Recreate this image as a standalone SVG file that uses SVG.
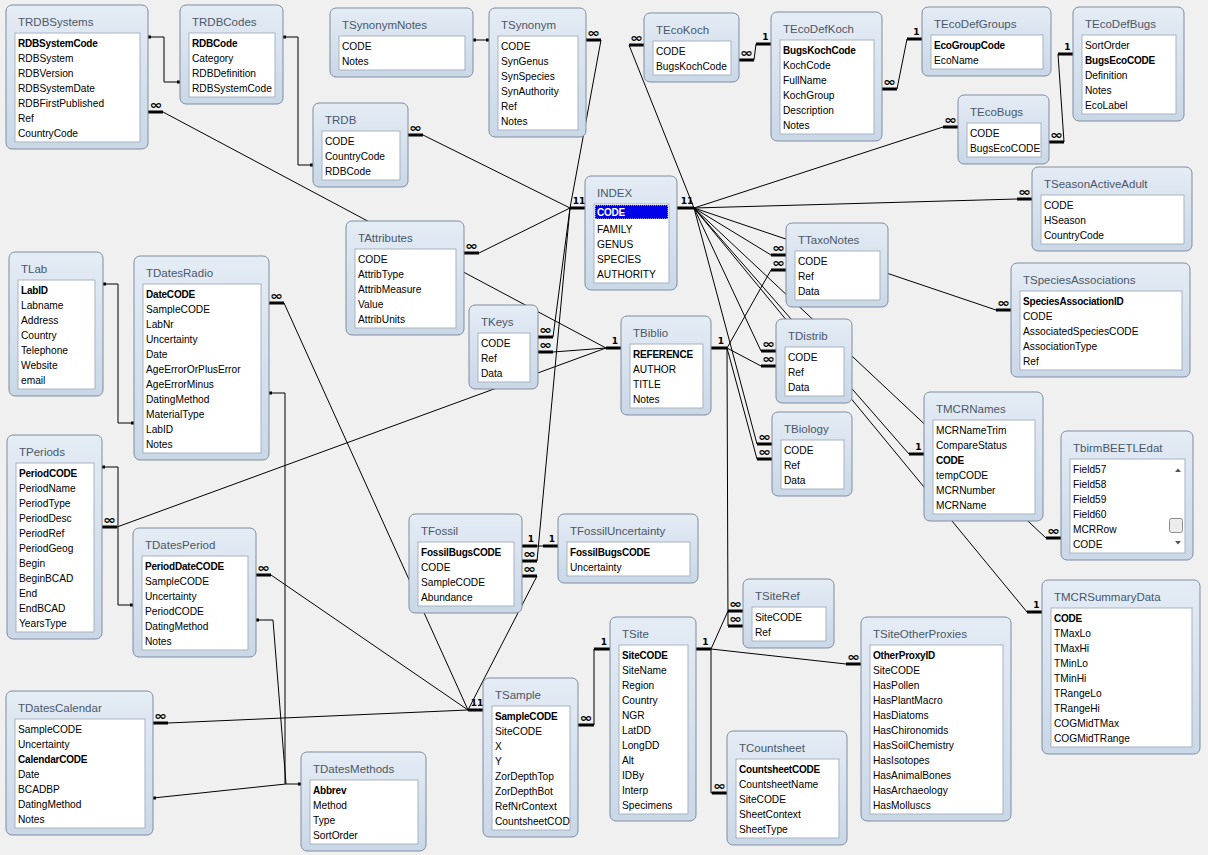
<svg xmlns="http://www.w3.org/2000/svg" width="1208" height="855" viewBox="0 0 1208 855">
<defs>
<linearGradient id="g" x1="0" y1="0" x2="0" y2="1">
<stop offset="0" stop-color="#e4ecf5"/>
<stop offset="1" stop-color="#c9d7e7"/>
</linearGradient>
<clipPath id="cs"><rect x="9" y="28" width="78" height="124"/></clipPath>
</defs>
<style>
.bx{fill:url(#g);stroke:#7f8d9e;stroke-width:1}
.in{fill:#fff;stroke:#a7b3c0;stroke-width:1}
.tt{font-family:"Liberation Sans",Arial,sans-serif;font-size:11.5px;fill:#4b5768}
.f{font-family:"Liberation Sans",Arial,sans-serif;font-size:10.2px;fill:#000}
.k{font-weight:bold;font-size:10px;letter-spacing:-0.2px}
.ln{fill:none;stroke:#000;stroke-width:1}
.st{fill:none;stroke:#000;stroke-width:3}
.dot{fill:#000}
.inf{font-family:"DejaVu Sans",sans-serif;font-size:12px;font-weight:bold;text-anchor:middle;fill:#000}
.one{font-family:"DejaVu Sans",sans-serif;font-size:9px;font-weight:bold;text-anchor:middle;fill:#000}
</style>
<rect width="1208" height="855" fill="#f0f0f0"/>
<g id="connectors">
<path class="ln" d="M163 112L606 348M423 135L570 208M601 40L570 208M479 253L570 208M553 337L570 208M553 352L606 348M537 561L570 208M117 527L606 348M537 546L543 546M537 576L468 710M284 303L468 710M271 575L468 710M168 723L468 710M594 725L594 649M711 649L728 611M711 649L846 664M711 649L711 793L712 793M727 348L728 626M727 348L771 270M727 348L761 366M727 348L757 459M694 208L629 45M694 208L943 127M694 208L1017 199M694 208L996 310M694 208L771 255M694 208L761 351M694 208L757 444M694 208L909 454M694 208L1046 538M694 208L1027 612M754 60L756 44M897 89L907 39M1064 142L1058 54"/>
<path class="ln" d="M148 37H164V82H180M283 37H298V165H313M473 40H489M103 284H118V423H134M102 467H118V605H133M256 620H273L286 784H301M269 393H285V784M153 798L286 784"/>
<path class="st" d="M148 112H163M408 135H423M586 40H601M570 208H585M677 208H694M464 253H479M538 337H553M538 352H553M606 348H621M711 348H727M102 527H117M522 546H537M543 546H558M522 561H537M522 576H537M468 710H483M269 303H284M256 575H271M153 723H168M578 725H594M594 649H610M696 649H711M728 611H743M728 626H743M846 664H861M712 793H727M771 255H786M771 270H786M761 351H776M761 366H776M757 444H772M757 459H772M629 45H644M739 60H754M756 44H771M882 89H897M907 39H922M943 127H958M1049 142H1064M1058 54H1073M1017 199H1032M996 310H1011M909 454H924M1046 538H1061M1027 612H1042"/>
<g class="dot">
<rect x="148" y="35.5" width="3" height="3"/><rect x="177" y="80.5" width="3" height="3"/>
<rect x="283" y="35.5" width="3" height="3"/><rect x="310" y="163.5" width="3" height="3"/>
<rect x="473" y="38.5" width="3" height="3"/><rect x="486" y="38.5" width="3" height="3"/>
<rect x="103" y="282.5" width="3" height="3"/><rect x="131" y="421.5" width="3" height="3"/>
<rect x="102" y="465.5" width="3" height="3"/><rect x="130" y="603.5" width="3" height="3"/>
<rect x="256" y="618.5" width="3" height="3"/><rect x="298" y="782.5" width="3" height="3"/>
<rect x="269" y="391.5" width="3" height="3"/><rect x="153" y="796.5" width="3" height="3"/>
</g>
<g>
<text class="inf" x="156" y="108.5" textLength="13" lengthAdjust="spacingAndGlyphs">∞</text>
<text class="inf" x="415.5" y="131.5" textLength="13" lengthAdjust="spacingAndGlyphs">∞</text>
<text class="inf" x="593.5" y="36.5" textLength="13" lengthAdjust="spacingAndGlyphs">∞</text>
<text class="inf" x="471.5" y="249.5" textLength="13" lengthAdjust="spacingAndGlyphs">∞</text>
<text class="inf" x="545.5" y="333.5" textLength="13" lengthAdjust="spacingAndGlyphs">∞</text>
<text class="inf" x="545.5" y="348.5" textLength="13" lengthAdjust="spacingAndGlyphs">∞</text>
<text class="inf" x="109.5" y="523.5" textLength="13" lengthAdjust="spacingAndGlyphs">∞</text>
<text class="inf" x="529.5" y="557.5" textLength="13" lengthAdjust="spacingAndGlyphs">∞</text>
<text class="inf" x="529.5" y="572.5" textLength="13" lengthAdjust="spacingAndGlyphs">∞</text>
<text class="inf" x="276.5" y="299.5" textLength="13" lengthAdjust="spacingAndGlyphs">∞</text>
<text class="inf" x="263.5" y="571.5" textLength="13" lengthAdjust="spacingAndGlyphs">∞</text>
<text class="inf" x="160.5" y="719.5" textLength="13" lengthAdjust="spacingAndGlyphs">∞</text>
<text class="inf" x="586" y="721.5" textLength="13" lengthAdjust="spacingAndGlyphs">∞</text>
<text class="inf" x="735.5" y="607.5" textLength="13" lengthAdjust="spacingAndGlyphs">∞</text>
<text class="inf" x="735.5" y="622.5" textLength="13" lengthAdjust="spacingAndGlyphs">∞</text>
<text class="inf" x="853.5" y="660.5" textLength="13" lengthAdjust="spacingAndGlyphs">∞</text>
<text class="inf" x="719.5" y="789.5" textLength="13" lengthAdjust="spacingAndGlyphs">∞</text>
<text class="inf" x="778.5" y="251.5" textLength="13" lengthAdjust="spacingAndGlyphs">∞</text>
<text class="inf" x="778.5" y="266.5" textLength="13" lengthAdjust="spacingAndGlyphs">∞</text>
<text class="inf" x="768.5" y="347.5" textLength="13" lengthAdjust="spacingAndGlyphs">∞</text>
<text class="inf" x="768.5" y="362.5" textLength="13" lengthAdjust="spacingAndGlyphs">∞</text>
<text class="inf" x="764.5" y="440.5" textLength="13" lengthAdjust="spacingAndGlyphs">∞</text>
<text class="inf" x="764.5" y="455.5" textLength="13" lengthAdjust="spacingAndGlyphs">∞</text>
<text class="inf" x="636.5" y="41.5" textLength="13" lengthAdjust="spacingAndGlyphs">∞</text>
<text class="inf" x="746.5" y="56.5" textLength="13" lengthAdjust="spacingAndGlyphs">∞</text>
<text class="inf" x="889.5" y="85.5" textLength="13" lengthAdjust="spacingAndGlyphs">∞</text>
<text class="inf" x="950.5" y="123.5" textLength="13" lengthAdjust="spacingAndGlyphs">∞</text>
<text class="inf" x="1056.5" y="138.5" textLength="13" lengthAdjust="spacingAndGlyphs">∞</text>
<text class="inf" x="1024.5" y="195.5" textLength="13" lengthAdjust="spacingAndGlyphs">∞</text>
<text class="inf" x="1003.5" y="306.5" textLength="13" lengthAdjust="spacingAndGlyphs">∞</text>
<text class="inf" x="1053.5" y="534.5" textLength="13" lengthAdjust="spacingAndGlyphs">∞</text>
<text class="one" x="579" y="204">11</text>
<text class="one" x="687" y="204">11</text>
<text class="one" x="477" y="706">11</text>
<text class="one" x="615" y="344">1</text>
<text class="one" x="721" y="344">1</text>
<text class="one" x="531" y="542">1</text>
<text class="one" x="552" y="542">1</text>
<text class="one" x="604" y="645">1</text>
<text class="one" x="705.5" y="645">1</text>
<text class="one" x="765.5" y="40">1</text>
<text class="one" x="916.5" y="35">1</text>
<text class="one" x="1067.5" y="50">1</text>
<text class="one" x="918.5" y="450">1</text>
<text class="one" x="1036.5" y="608">1</text>
</g>
</g>

<g id="TRDBSystems" transform="translate(6,5)"><rect class="bx" width="142" height="144" rx="6"/><text class="tt" x="12" y="21">TRDBSystems</text><rect class="in" x="9" y="28" width="125" height="109"/><text class="f"><tspan class="k" x="12" y="42">RDBSystemCode</tspan><tspan x="12" y="57">RDBSystem</tspan><tspan x="12" y="72">RDBVersion</tspan><tspan x="12" y="87">RDBSystemDate</tspan><tspan x="12" y="102">RDBFirstPublished</tspan><tspan x="12" y="117">Ref</tspan><tspan x="12" y="132">CountryCode</tspan></text></g>

<g id="TRDBCodes" transform="translate(180,5)"><rect class="bx" width="103" height="99" rx="6"/><text class="tt" x="12" y="21">TRDBCodes</text><rect class="in" x="9" y="28" width="86" height="64"/><text class="f"><tspan class="k" x="12" y="42">RDBCode</tspan><tspan x="12" y="57">Category</tspan><tspan x="12" y="72">RDBDefinition</tspan><tspan x="12" y="87">RDBSystemCode</tspan></text></g>

<g id="TSynonymNotes" transform="translate(330,8)"><rect class="bx" width="143" height="69" rx="6"/><text class="tt" x="12" y="21">TSynonymNotes</text><rect class="in" x="9" y="28" width="126" height="34"/><text class="f"><tspan x="12" y="42">CODE</tspan><tspan x="12" y="57">Notes</tspan></text></g>

<g id="TSynonym" transform="translate(489,8)"><rect class="bx" width="97" height="129" rx="6"/><text class="tt" x="12" y="21">TSynonym</text><rect class="in" x="9" y="28" width="80" height="94"/><text class="f"><tspan x="12" y="42">CODE</tspan><tspan x="12" y="57">SynGenus</tspan><tspan x="12" y="72">SynSpecies</tspan><tspan x="12" y="87">SynAuthority</tspan><tspan x="12" y="102">Ref</tspan><tspan x="12" y="117">Notes</tspan></text></g>

<g id="TRDB" transform="translate(313,103)"><rect class="bx" width="95" height="84" rx="6"/><text class="tt" x="12" y="21">TRDB</text><rect class="in" x="9" y="28" width="78" height="49"/><text class="f"><tspan x="12" y="42">CODE</tspan><tspan x="12" y="57">CountryCode</tspan><tspan x="12" y="72">RDBCode</tspan></text></g>

<g id="TEcoKoch" transform="translate(644,13)"><rect class="bx" width="95" height="69" rx="6"/><text class="tt" x="12" y="21">TEcoKoch</text><rect class="in" x="9" y="28" width="78" height="34"/><text class="f"><tspan x="12" y="42">CODE</tspan><tspan x="12" y="57">BugsKochCode</tspan></text></g>

<g id="TEcoDefKoch" transform="translate(771,12)"><rect class="bx" width="111" height="129" rx="6"/><text class="tt" x="12" y="21">TEcoDefKoch</text><rect class="in" x="9" y="28" width="94" height="94"/><text class="f"><tspan class="k" x="12" y="42">BugsKochCode</tspan><tspan x="12" y="57">KochCode</tspan><tspan x="12" y="72">FullName</tspan><tspan x="12" y="87">KochGroup</tspan><tspan x="12" y="102">Description</tspan><tspan x="12" y="117">Notes</tspan></text></g>

<g id="TEcoDefGroups" transform="translate(922,7)"><rect class="bx" width="129" height="69" rx="6"/><text class="tt" x="12" y="21">TEcoDefGroups</text><rect class="in" x="9" y="28" width="112" height="34"/><text class="f"><tspan class="k" x="12" y="42">EcoGroupCode</tspan><tspan x="12" y="57">EcoName</tspan></text></g>

<g id="TEcoDefBugs" transform="translate(1073,7)"><rect class="bx" width="111" height="114" rx="6"/><text class="tt" x="12" y="21">TEcoDefBugs</text><rect class="in" x="9" y="28" width="94" height="79"/><text class="f"><tspan x="12" y="42">SortOrder</tspan><tspan class="k" x="12" y="57">BugsEcoCODE</tspan><tspan x="12" y="72">Definition</tspan><tspan x="12" y="87">Notes</tspan><tspan x="12" y="102">EcoLabel</tspan></text></g>

<g id="TEcoBugs" transform="translate(958,95)"><rect class="bx" width="91" height="69" rx="6"/><text class="tt" x="12" y="21">TEcoBugs</text><rect class="in" x="9" y="28" width="74" height="34"/><text class="f"><tspan x="12" y="42">CODE</tspan><tspan x="12" y="57">BugsEcoCODE</tspan></text></g>

<g id="TSeasonActiveAdult" transform="translate(1032,167)"><rect class="bx" width="160" height="84" rx="6"/><text class="tt" x="12" y="21">TSeasonActiveAdult</text><rect class="in" x="9" y="28" width="143" height="49"/><text class="f"><tspan x="12" y="42">CODE</tspan><tspan x="12" y="57">HSeason</tspan><tspan x="12" y="72">CountryCode</tspan></text></g>

<g id="TSpeciesAssociations" transform="translate(1011,263)"><rect class="bx" width="179" height="114" rx="6"/><text class="tt" x="12" y="21">TSpeciesAssociations</text><rect class="in" x="9" y="28" width="162" height="79"/><text class="f"><tspan class="k" x="12" y="42">SpeciesAssociationID</tspan><tspan x="12" y="57">CODE</tspan><tspan x="12" y="72">AssociatedSpeciesCODE</tspan><tspan x="12" y="87">AssociationType</tspan><tspan x="12" y="102">Ref</tspan></text></g>

<g id="INDEX" transform="translate(585,176)"><rect class="bx" width="92" height="114" rx="6"/><text class="tt" x="12" y="21">INDEX</text><rect class="in" x="9" y="28" width="75" height="79"/><rect x="10" y="29" width="73" height="14" fill="#0000e8" stroke="#fff" stroke-dasharray="1 1"/><text class="f"><tspan class="k" x="12" y="40" fill="#fff">CODE</tspan><tspan x="12" y="57">FAMILY</tspan><tspan x="12" y="72">GENUS</tspan><tspan x="12" y="87">SPECIES</tspan><tspan x="12" y="102">AUTHORITY</tspan></text></g>

<g id="TAttributes" transform="translate(346,221)"><rect class="bx" width="118" height="114" rx="6"/><text class="tt" x="12" y="21">TAttributes</text><rect class="in" x="9" y="28" width="101" height="79"/><text class="f"><tspan x="12" y="42">CODE</tspan><tspan x="12" y="57">AttribType</tspan><tspan x="12" y="72">AttribMeasure</tspan><tspan x="12" y="87">Value</tspan><tspan x="12" y="102">AttribUnits</tspan></text></g>

<g id="TTaxoNotes" transform="translate(786,223)"><rect class="bx" width="102" height="84" rx="6"/><text class="tt" x="12" y="21">TTaxoNotes</text><rect class="in" x="9" y="28" width="85" height="49"/><text class="f"><tspan x="12" y="42">CODE</tspan><tspan x="12" y="57">Ref</tspan><tspan x="12" y="72">Data</tspan></text></g>

<g id="TDistrib" transform="translate(776,319)"><rect class="bx" width="76" height="84" rx="6"/><text class="tt" x="12" y="21">TDistrib</text><rect class="in" x="9" y="28" width="59" height="49"/><text class="f"><tspan x="12" y="42">CODE</tspan><tspan x="12" y="57">Ref</tspan><tspan x="12" y="72">Data</tspan></text></g>

<g id="TBiology" transform="translate(772,412)"><rect class="bx" width="80" height="84" rx="6"/><text class="tt" x="12" y="21">TBiology</text><rect class="in" x="9" y="28" width="63" height="49"/><text class="f"><tspan x="12" y="42">CODE</tspan><tspan x="12" y="57">Ref</tspan><tspan x="12" y="72">Data</tspan></text></g>

<g id="TKeys" transform="translate(469,305)"><rect class="bx" width="69" height="84" rx="6"/><text class="tt" x="12" y="21">TKeys</text><rect class="in" x="9" y="28" width="52" height="49"/><text class="f"><tspan x="12" y="42">CODE</tspan><tspan x="12" y="57">Ref</tspan><tspan x="12" y="72">Data</tspan></text></g>

<g id="TBiblio" transform="translate(621,316)"><rect class="bx" width="90" height="99" rx="6"/><text class="tt" x="12" y="21">TBiblio</text><rect class="in" x="9" y="28" width="73" height="64"/><text class="f"><tspan class="k" x="12" y="42">REFERENCE</tspan><tspan x="12" y="57">AUTHOR</tspan><tspan x="12" y="72">TITLE</tspan><tspan x="12" y="87">Notes</tspan></text></g>

<g id="TLab" transform="translate(9,252)"><rect class="bx" width="94" height="144" rx="6"/><text class="tt" x="12" y="21">TLab</text><rect class="in" x="9" y="28" width="77" height="109"/><text class="f"><tspan class="k" x="12" y="42">LabID</tspan><tspan x="12" y="57">Labname</tspan><tspan x="12" y="72">Address</tspan><tspan x="12" y="87">Country</tspan><tspan x="12" y="102">Telephone</tspan><tspan x="12" y="117">Website</tspan><tspan x="12" y="132">email</tspan></text></g>

<g id="TDatesRadio" transform="translate(134,256)"><rect class="bx" width="135" height="204" rx="6"/><text class="tt" x="12" y="21">TDatesRadio</text><rect class="in" x="9" y="28" width="118" height="169"/><text class="f"><tspan class="k" x="12" y="42">DateCODE</tspan><tspan x="12" y="57">SampleCODE</tspan><tspan x="12" y="72">LabNr</tspan><tspan x="12" y="87">Uncertainty</tspan><tspan x="12" y="102">Date</tspan><tspan x="12" y="117">AgeErrorOrPlusError</tspan><tspan x="12" y="132">AgeErrorMinus</tspan><tspan x="12" y="147">DatingMethod</tspan><tspan x="12" y="162">MaterialType</tspan><tspan x="12" y="177">LabID</tspan><tspan x="12" y="192">Notes</tspan></text></g>

<g id="TPeriods" transform="translate(7,435)"><rect class="bx" width="95" height="204" rx="6"/><text class="tt" x="12" y="21">TPeriods</text><rect class="in" x="9" y="28" width="78" height="169"/><text class="f"><tspan class="k" x="12" y="42">PeriodCODE</tspan><tspan x="12" y="57">PeriodName</tspan><tspan x="12" y="72">PeriodType</tspan><tspan x="12" y="87">PeriodDesc</tspan><tspan x="12" y="102">PeriodRef</tspan><tspan x="12" y="117">PeriodGeog</tspan><tspan x="12" y="132">Begin</tspan><tspan x="12" y="147">BeginBCAD</tspan><tspan x="12" y="162">End</tspan><tspan x="12" y="177">EndBCAD</tspan><tspan x="12" y="192">YearsType</tspan></text></g>

<g id="TDatesPeriod" transform="translate(133,528)"><rect class="bx" width="123" height="129" rx="6"/><text class="tt" x="12" y="21">TDatesPeriod</text><rect class="in" x="9" y="28" width="106" height="94"/><text class="f"><tspan class="k" x="12" y="42">PeriodDateCODE</tspan><tspan x="12" y="57">SampleCODE</tspan><tspan x="12" y="72">Uncertainty</tspan><tspan x="12" y="87">PeriodCODE</tspan><tspan x="12" y="102">DatingMethod</tspan><tspan x="12" y="117">Notes</tspan></text></g>

<g id="TDatesCalendar" transform="translate(6,691)"><rect class="bx" width="147" height="144" rx="6"/><text class="tt" x="12" y="21">TDatesCalendar</text><rect class="in" x="9" y="28" width="130" height="109"/><text class="f"><tspan x="12" y="42">SampleCODE</tspan><tspan x="12" y="57">Uncertainty</tspan><tspan class="k" x="12" y="72">CalendarCODE</tspan><tspan x="12" y="87">Date</tspan><tspan x="12" y="102">BCADBP</tspan><tspan x="12" y="117">DatingMethod</tspan><tspan x="12" y="132">Notes</tspan></text></g>

<g id="TDatesMethods" transform="translate(301,752)"><rect class="bx" width="125" height="99" rx="6"/><text class="tt" x="12" y="21">TDatesMethods</text><rect class="in" x="9" y="28" width="108" height="64"/><text class="f"><tspan class="k" x="12" y="42">Abbrev</tspan><tspan x="12" y="57">Method</tspan><tspan x="12" y="72">Type</tspan><tspan x="12" y="87">SortOrder</tspan></text></g>

<g id="TFossil" transform="translate(409,514)"><rect class="bx" width="113" height="99" rx="6"/><text class="tt" x="12" y="21">TFossil</text><rect class="in" x="9" y="28" width="96" height="64"/><text class="f"><tspan class="k" x="12" y="42">FossilBugsCODE</tspan><tspan x="12" y="57">CODE</tspan><tspan x="12" y="72">SampleCODE</tspan><tspan x="12" y="87">Abundance</tspan></text></g>

<g id="TFossilUncertainty" transform="translate(558,514)"><rect class="bx" width="140" height="69" rx="6"/><text class="tt" x="12" y="21">TFossilUncertainty</text><rect class="in" x="9" y="28" width="123" height="34"/><text class="f"><tspan class="k" x="12" y="42">FossilBugsCODE</tspan><tspan x="12" y="57">Uncertainty</tspan></text></g>

<g id="TSample" transform="translate(483,678)"><rect class="bx" width="95" height="159" rx="6"/><text class="tt" x="12" y="21">TSample</text><rect class="in" x="9" y="28" width="78" height="124"/><text class="f" clip-path="url(#cs)"><tspan class="k" x="12" y="42">SampleCODE</tspan><tspan x="12" y="57">SiteCODE</tspan><tspan x="12" y="72">X</tspan><tspan x="12" y="87">Y</tspan><tspan x="12" y="102">ZorDepthTop</tspan><tspan x="12" y="117">ZorDepthBot</tspan><tspan x="12" y="132">RefNrContext</tspan><tspan x="12" y="147">CountsheetCODE</tspan></text></g>

<g id="TSite" transform="translate(610,617)"><rect class="bx" width="86" height="204" rx="6"/><text class="tt" x="12" y="21">TSite</text><rect class="in" x="9" y="28" width="69" height="169"/><text class="f"><tspan class="k" x="12" y="42">SiteCODE</tspan><tspan x="12" y="57">SiteName</tspan><tspan x="12" y="72">Region</tspan><tspan x="12" y="87">Country</tspan><tspan x="12" y="102">NGR</tspan><tspan x="12" y="117">LatDD</tspan><tspan x="12" y="132">LongDD</tspan><tspan x="12" y="147">Alt</tspan><tspan x="12" y="162">IDBy</tspan><tspan x="12" y="177">Interp</tspan><tspan x="12" y="192">Specimens</tspan></text></g>

<g id="TSiteRef" transform="translate(743,579)"><rect class="bx" width="91" height="69" rx="6"/><text class="tt" x="12" y="21">TSiteRef</text><rect class="in" x="9" y="28" width="74" height="34"/><text class="f"><tspan x="12" y="42">SiteCODE</tspan><tspan x="12" y="57">Ref</tspan></text></g>

<g id="TSiteOtherProxies" transform="translate(861,617)"><rect class="bx" width="150" height="204" rx="6"/><text class="tt" x="12" y="21">TSiteOtherProxies</text><rect class="in" x="9" y="28" width="133" height="169"/><text class="f"><tspan class="k" x="12" y="42">OtherProxyID</tspan><tspan x="12" y="57">SiteCODE</tspan><tspan x="12" y="72">HasPollen</tspan><tspan x="12" y="87">HasPlantMacro</tspan><tspan x="12" y="102">HasDiatoms</tspan><tspan x="12" y="117">HasChironomids</tspan><tspan x="12" y="132">HasSoilChemistry</tspan><tspan x="12" y="147">HasIsotopes</tspan><tspan x="12" y="162">HasAnimalBones</tspan><tspan x="12" y="177">HasArchaeology</tspan><tspan x="12" y="192">HasMolluscs</tspan></text></g>

<g id="TCountsheet" transform="translate(727,731)"><rect class="bx" width="120" height="114" rx="6"/><text class="tt" x="12" y="21">TCountsheet</text><rect class="in" x="9" y="28" width="103" height="79"/><text class="f"><tspan class="k" x="12" y="42">CountsheetCODE</tspan><tspan x="12" y="57">CountsheetName</tspan><tspan x="12" y="72">SiteCODE</tspan><tspan x="12" y="87">SheetContext</tspan><tspan x="12" y="102">SheetType</tspan></text></g>

<g id="TMCRNames" transform="translate(924,392)"><rect class="bx" width="119" height="129" rx="6"/><text class="tt" x="12" y="21">TMCRNames</text><rect class="in" x="9" y="28" width="102" height="94"/><text class="f"><tspan x="12" y="42">MCRNameTrim</tspan><tspan x="12" y="57">CompareStatus</tspan><tspan class="k" x="12" y="72">CODE</tspan><tspan x="12" y="87">tempCODE</tspan><tspan x="12" y="102">MCRNumber</tspan><tspan x="12" y="117">MCRName</tspan></text></g>

<g id="TbirmBEETLEdat" transform="translate(1061,431)"><rect class="bx" width="132" height="129" rx="6"/><text class="tt" x="12" y="21">TbirmBEETLEdat</text><rect class="in" x="9" y="28" width="115" height="94"/><text class="f"><tspan x="12" y="42">Field57</tspan><tspan x="12" y="57">Field58</tspan><tspan x="12" y="72">Field59</tspan><tspan x="12" y="87">Field60</tspan><tspan x="12" y="102">MCRRow</tspan><tspan x="12" y="117">CODE</tspan></text><path d="M114 41L117 37.5L120 41Z" fill="#555"/><path d="M114 110L117 113.5L120 110Z" fill="#555"/><rect x="108.5" y="87.5" width="13" height="14" rx="2" fill="#ececec" stroke="#8c8c8c"/></g>

<g id="TMCRSummaryData" transform="translate(1042,580)"><rect class="bx" width="158" height="174" rx="6"/><text class="tt" x="12" y="21">TMCRSummaryData</text><rect class="in" x="9" y="28" width="141" height="139"/><text class="f"><tspan class="k" x="12" y="42">CODE</tspan><tspan x="12" y="57">TMaxLo</tspan><tspan x="12" y="72">TMaxHi</tspan><tspan x="12" y="87">TMinLo</tspan><tspan x="12" y="102">TMinHi</tspan><tspan x="12" y="117">TRangeLo</tspan><tspan x="12" y="132">TRangeHi</tspan><tspan x="12" y="147">COGMidTMax</tspan><tspan x="12" y="162">COGMidTRange</tspan></text></g>
</svg>
